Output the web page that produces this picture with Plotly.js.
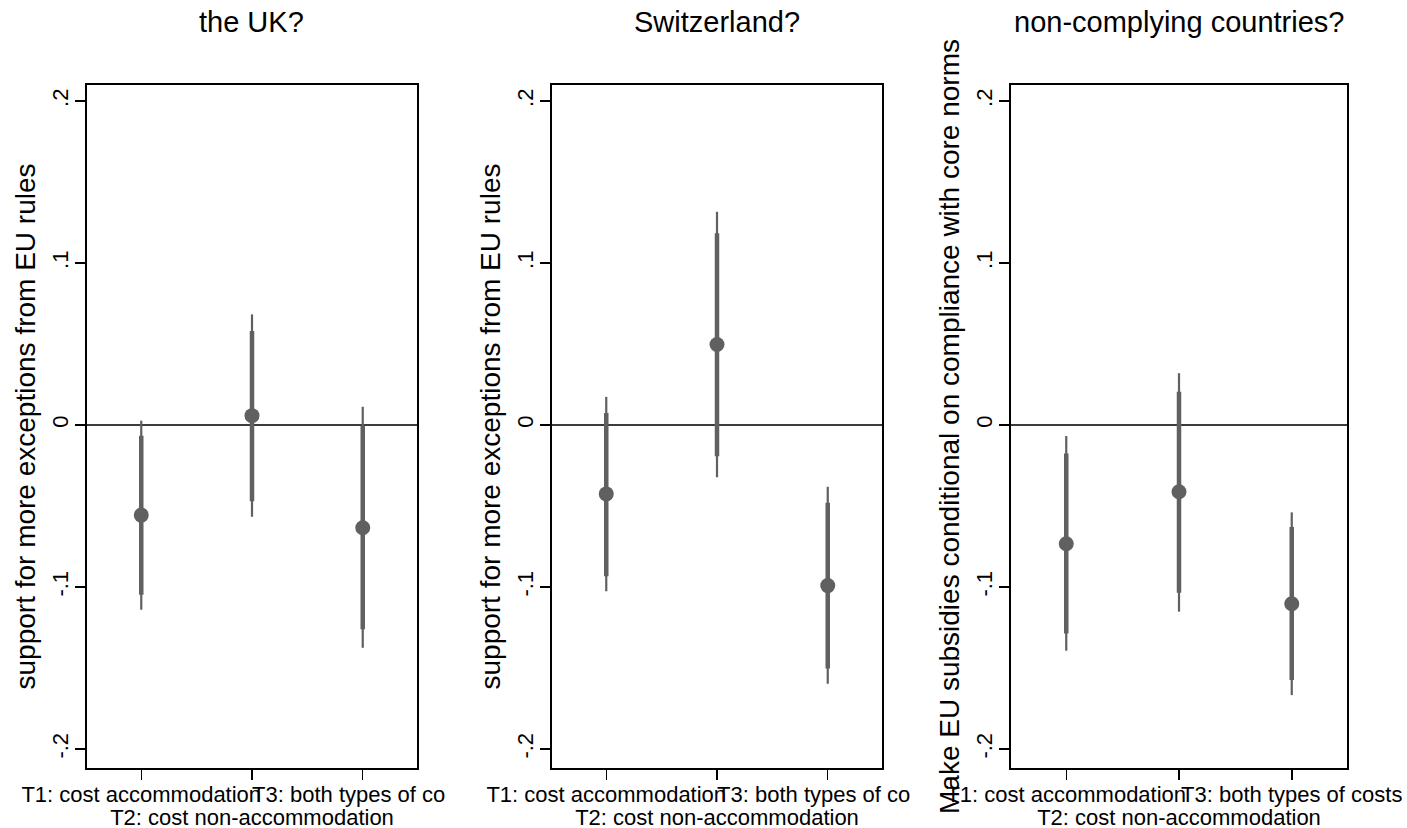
<!DOCTYPE html>
<html>
<head>
<meta charset="utf-8">
<script src="https://cdn.plot.ly/plotly-3.0.1.min.js"></script>
<style>html,body{margin:0;padding:0;background:#fff;}#chart{width:1407px;height:828px;}</style>
</head>
<body>
<div id="chart"></div>
<script>
// ---- data ----
var categories = ["T1: cost accommodation", "T2: cost non-accommodation", "T3: both types of costs"];
var panelTitles = ["the UK?", "Switzerland?", "non-complying countries?"];
var yTitles = ["support for more exceptions from EU rules",
               "support for more exceptions from EU rules",
               "Make EU subsidies conditional on compliance with core norms"];
var yTickVals = [-0.2, -0.1, 0, 0.1, 0.2];
var yTickText = ["-.2", "-.1", "0", ".1", ".2"];

// point estimates
var estUK   = [-0.0556,  0.0058, -0.0634];
var estCH   = [-0.0425,  0.0497, -0.0991];
var estCond = [-0.0733, -0.0412, -0.1103];
// outer (thin) intervals
var outerLoUK   = [-0.1140, -0.0566, -0.1375];
var outerHiUK   = [ 0.0027,  0.0683,  0.0113];
var outerLoCH   = [-0.1026, -0.0322, -0.1597];
var outerHiCH   = [ 0.0174,  0.1316, -0.0381];
var outerLoCond = [-0.1393, -0.1152, -0.1667];
var outerHiCond = [-0.0068,  0.0320, -0.0539];
// inner (thick) intervals
var innerLoUK   = [-0.1047, -0.0470, -0.1260];
var innerHiUK   = [-0.0066,  0.0580, -0.0005];
var innerLoCH   = [-0.0933, -0.0193, -0.1503];
var innerHiCH   = [ 0.0075,  0.1184, -0.0480];
var innerLoCond = [-0.1286, -0.1035, -0.1574];
var innerHiCond = [-0.0175,  0.0206, -0.0630];

// ---- build ----
var FONT = "Liberation Sans, Arial, Helvetica, sans-serif";
var GREY = "#606060";
var W = 1407, H = 828;
var panels = [
  {est: estUK, oLo: outerLoUK, oHi: outerHiUK, iLo: innerLoUK, iHi: innerHiUK, x0: 87, x1: 417, trunc: true},
  {est: estCH, oLo: outerLoCH, oHi: outerHiCH, iLo: innerLoCH, iHi: innerHiCH, x0: 552, x1: 882, trunc: true},
  {est: estCond, oLo: outerLoCond, oHi: outerHiCond, iLo: innerLoCond, iHi: innerHiCond, x0: 1011, x1: 1347, trunc: false}
];
var xPos = categories.map(function(c, i){ return i + 1; });
var yDomain = [(H - 768) / H, (H - 85) / H];
var yRange = [-0.2117, 0.2099];
var xRange = [0.51, 3.49];

var traces = [];
var layout = {
  width: W, height: H,
  margin: {l: 0, r: 0, t: 0, b: 0},
  paper_bgcolor: "#fff", plot_bgcolor: "#fff",
  showlegend: false,
  font: {family: FONT, color: "#000"},
  annotations: []
};

function diff(a, b){ return a.map(function(v, i){ return v - b[i]; }); }

panels.forEach(function(p, k){
  var xa = k === 0 ? "x" : "x" + (k + 1);
  var ya = k === 0 ? "y" : "y" + (k + 1);
  var xKey = k === 0 ? "xaxis" : "xaxis" + (k + 1);
  var yKey = k === 0 ? "yaxis" : "yaxis" + (k + 1);
  var ovKey = "xaxis" + (k + 4);
  var ovName = "x" + (k + 4);

  // outer thin interval
  traces.push({
    type: "scatter", mode: "markers", x: xPos, y: p.est, xaxis: xa, yaxis: ya,
    marker: {size: 1, color: "rgba(0,0,0,0)"},
    error_y: {type: "data", symmetric: false, array: diff(p.oHi, p.est), arrayminus: diff(p.est, p.oLo),
              color: GREY, thickness: 2.2, width: 0},
    hoverinfo: "skip"
  });
  // inner thick interval
  traces.push({
    type: "scatter", mode: "markers", x: xPos, y: p.est, xaxis: xa, yaxis: ya,
    marker: {size: 1, color: "rgba(0,0,0,0)"},
    error_y: {type: "data", symmetric: false, array: diff(p.iHi, p.est), arrayminus: diff(p.est, p.iLo),
              color: GREY, thickness: 4.5, width: 0},
    hoverinfo: "skip"
  });
  // point estimates
  traces.push({
    type: "scatter", mode: "markers", x: xPos, y: p.est, xaxis: xa, yaxis: ya,
    marker: {size: 15, color: GREY}, hoverinfo: "x+y"
  });

  var t3 = p.trunc ? "T3: both types of co<span style='color:rgba(0,0,0,0)'>sts</span>" : categories[2];
  var dom = [p.x0 / W, p.x1 / W];
  layout[xKey] = {
    domain: dom, anchor: ya, range: xRange,
    tickmode: "array", tickvals: xPos, ticktext: [categories[0], "", t3], tickangle: 0,
    ticks: "outside", ticklen: 10, tickwidth: 1.5, tickcolor: "#000",
    ticklabelstandoff: -4,
    showline: true, mirror: true, linecolor: "#000", linewidth: 1.8,
    showgrid: false, zeroline: false,
    tickfont: {family: FONT, size: 22, color: "#000"}
  };
  layout[ovKey] = {
    overlaying: xa, anchor: ya, side: "bottom", range: xRange,
    tickmode: "array", tickvals: [xPos[1]], ticktext: [categories[1]], tickangle: 0,
    ticks: "", showline: false, showgrid: false, zeroline: false,
    ticklabelstandoff: 34,
    tickfont: {family: FONT, size: 22, color: "#000"}
  };
  // invisible placeholder so the overlay axis is created
  traces.push({type: "scatter", mode: "markers", x: [xPos[1]], y: [null], xaxis: ovName, yaxis: ya,
               marker: {size: 1, color: "rgba(0,0,0,0)"}, hoverinfo: "skip"});

  layout[yKey] = {
    domain: yDomain, anchor: xa, range: yRange,
    tickmode: "array", tickvals: yTickVals, ticktext: yTickText, tickangle: -90,
    ticks: "outside", ticklen: 10, tickwidth: 1.5, tickcolor: "#000",
    ticklabelstandoff: -2,
    showline: true, mirror: true, linecolor: "#000", linewidth: 1.8,
    showgrid: false,
    zeroline: true, zerolinecolor: "#3c3c3c", zerolinewidth: 1.8,
    tickfont: {family: FONT, size: 22, color: "#000"},
    title: {text: yTitles[k], font: {family: FONT, size: 28, color: "#000"}, standoff: 5}
  };
  layout.annotations.push({
    text: panelTitles[k], xref: xa + " domain", yref: "paper",
    x: 0.5, y: 1 - 22 / H, xanchor: "center", yanchor: "middle",
    showarrow: false, font: {family: FONT, size: 29, color: "#000"}
  });
});

Plotly.newPlot("chart", traces, layout, {displayModeBar: false, staticPlot: true});
</script>
</body>
</html>
